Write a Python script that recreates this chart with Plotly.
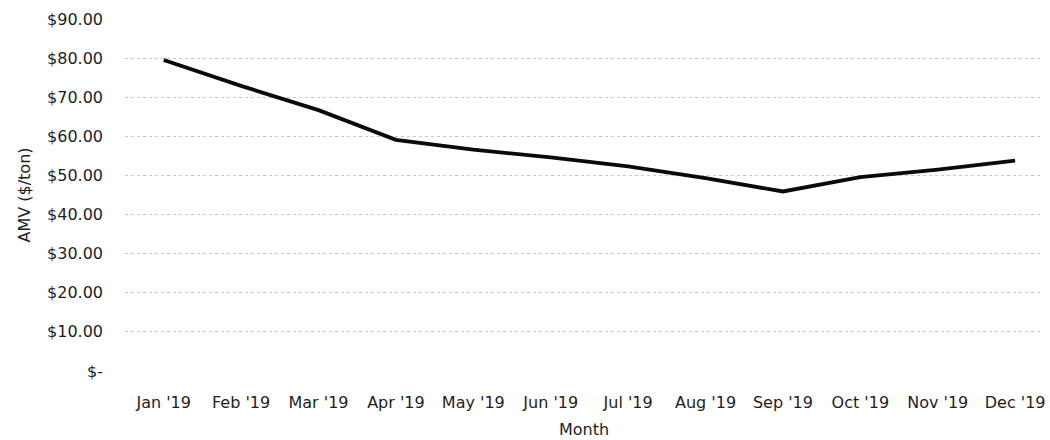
import plotly.graph_objects as go

months = ["Jan '19", "Feb '19", "Mar '19", "Apr '19", "May '19", "Jun '19",
          "Jul '19", "Aug '19", "Sep '19", "Oct '19", "Nov '19", "Dec '19"]
amv = [79.5, 72.9, 66.7, 59.1, 56.6, 54.6, 52.3, 49.3, 45.9, 49.6, 51.5, 53.8]

y_tickvals = [0, 10, 20, 30, 40, 50, 60, 70, 80, 90]
y_ticktext = ["$-", "$10.00", "$20.00", "$30.00", "$40.00", "$50.00",
              "$60.00", "$70.00", "$80.00", "$90.00"]

font_family = "DejaVu Sans, sans-serif"
text_color = "#1e1e1e"

fig = go.Figure()
fig.add_trace(go.Scatter(
    x=list(range(len(months))), y=amv, mode="lines",
    line=dict(color="#0a0a0a", width=3.8),
    showlegend=False, hoverinfo="skip",
))

fig.update_layout(
    width=1050, height=440,
    margin=dict(l=125, r=5, t=19, b=66),
    paper_bgcolor="white", plot_bgcolor="white",
    font=dict(family=font_family, size=16, color=text_color),
    xaxis=dict(
        tickmode="array", tickvals=list(range(len(months))), ticktext=months,
        range=[-0.5, 11.36], showgrid=False, zeroline=False, showline=False,
        ticks="", ticklabelstandoff=20,
        title=dict(text="Month", standoff=12, font=dict(size=16)),
    ),
    yaxis=dict(
        tickmode="array", tickvals=y_tickvals, ticktext=y_ticktext,
        range=[0, 90], showgrid=True, gridcolor="#c8c8c8", griddash="dot",
        gridwidth=1, zeroline=False, showline=False, ticks="",
        ticklabelstandoff=21,
        title=dict(text="AMV ($/ton)", standoff=12, font=dict(size=16)),
    ),
)

fig.write_html("out.html", config={"displayModeBar": False},
               post_script="document.body.style.margin='0';")
